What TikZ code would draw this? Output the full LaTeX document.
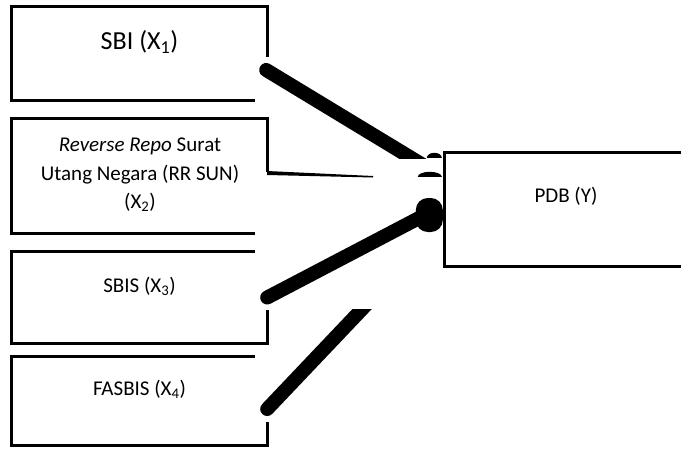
\documentclass[tikz,border=0pt]{standalone}
\usepackage{fontspec}
\setmainfont{Carlito}
\usetikzlibrary{calc}
\tikzset{
  box/.style={rectangle, minimum width=255pt, inner sep=0pt},
  edge/.style={line width=2.8pt},
  conn/.style={line width=14pt, line cap=round},
  lbl/.style={font=\fontsize{21}{28.5}\selectfont, align=center}
}

\begin{document}
\begin{tikzpicture}[x=1pt,y=-1pt]
            \useasboundingbox (0,0) rectangle (681,448);
            \clip (0,0) rectangle (681,448);
            % boxes (outlines drawn below, with their gaps)
            \node[box, minimum height=93pt] (sbi) at (139.5,53.5) {};
            \node[box, minimum height=114pt] (rrsun) at (139.5,176) {};
            \node[box, minimum height=91pt] (sbis) at (139.5,297.5) {};
            \node[box, minimum height=88pt] (fasbis) at (139.5,401) {};
            \node[box, minimum width=245pt, minimum height=113pt] (pdb) at (567.5,209.5) {};
            
            % outlines
            \draw[edge] ($(sbi.south east)+(-12,0)$) -- (sbi.south west) -- (sbi.north west) -- (sbi.north east) -- ++(0,50);
            \draw[edge] ($(rrsun.south east)+(-12,0)$) -- (rrsun.south west) -- (rrsun.north west) -- (rrsun.north east) -- ++(0,53);
            \draw[edge] ($(sbis.north east)+(-12,0)$) -- (sbis.north west) -- (sbis.south west) -- (sbis.south east) -- ++(0,-33);
            \draw[edge] ($(fasbis.north east)+(-12,0)$) -- (fasbis.north west) -- (fasbis.south west) -- (fasbis.south east) -- ++(0,-23);
            \draw[edge] (pdb.north east) -- (pdb.north west) -- (pdb.south west) -- (pdb.south east);
            
            % texts
            \node[font=\fontsize{26}{30}\selectfont] (sbitxt) at (139.5,42) {SBI (X\textsubscript{1})};
            \node[lbl] (rrsuntxt) at (140,175) {\textit{Reverse Repo} Surat\\Utang Negara (RR SUN)\\(X\textsubscript{2})};
            \node[lbl] (sbistxt) at (139.5,286) {SBIS (X\textsubscript{3})};
            \node[lbl] (fasbistxt) at (139.5,389) {FASBIS (X\textsubscript{4})};
            \node[lbl] (pdbtxt) at (566,196.5) {PDB (Y)};
            
            % X1 to Y
            \begin{scope}
            \clip (0,0) rectangle (681,158);
            \draw[conn] ($(sbi.east)+(-1,16.5)$) -- ($(pdb.west)+(-7,-35.5)$);
            \end{scope}
            \fill ($(pdb.north west)+(-18,5)$) arc[start angle=180, end angle=360, x radius=7.5, y radius=5];
            
            % X2 to Y
            \fill ($(rrsun.east)+(0,-5)$) -- ($(rrsun.east)+(106,0)$) -- ($(rrsun.east)+(106,1.5)$) -- ($(rrsun.east)+(0,-1)$) -- cycle;
            \fill ($(pdb.north west)+(-27,24)$) arc[start angle=180, end angle=360, x radius=12, y radius=5];
            
            % X3 to Y
            \draw[conn] (sbis.east) -- ($(pdb.west)+(-20,5.5)$);
            \fill[rounded corners=12pt] ($(pdb.west)+(-29,-11.5)$) rectangle ($(pdb.west)+(-2,22.5)$);
            
            % X4 to Y
            \begin{scope}
            \clip (0,309) rectangle (681,448);
            \draw[conn] ($(fasbis.east)+(0,8)$) -- ($(pdb.south west)+(-42,0)$);
            \end{scope}
\end{tikzpicture}
\end{document}
